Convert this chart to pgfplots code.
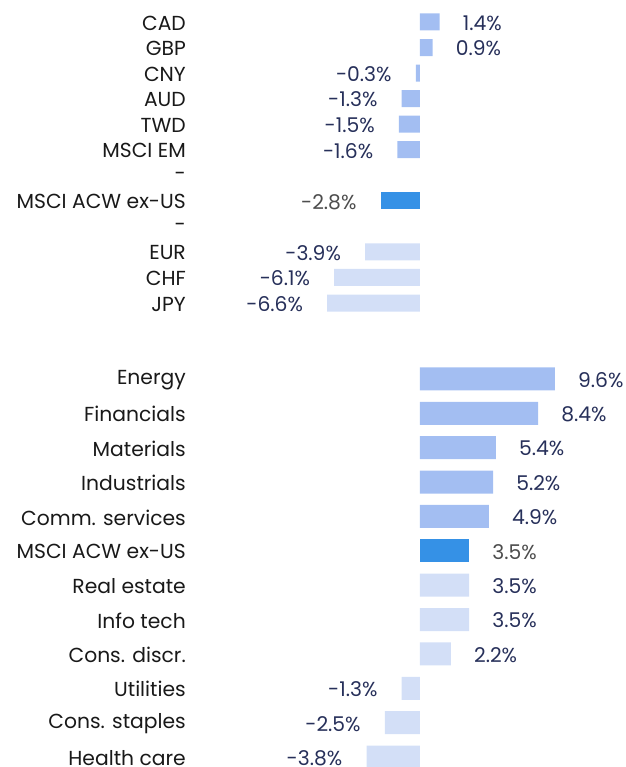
\documentclass[border=0pt]{standalone}
\usepackage{pgfplots}
\pgfplotsset{compat=1.18}
\usepackage{fontspec}
\setmainfont{Poppins}
\definecolor{med}{HTML}{A3BEF2}
\definecolor{hl}{HTML}{3591E6}
\definecolor{lt}{HTML}{D3DFF7}
\definecolor{navy}{HTML}{27305A}
\definecolor{gr}{HTML}{4D4D4D}
\newcommand{\lblfont}{\fontsize{20.3}{23}\selectfont}
\pgfplotsset{
  panel/.style={
    scale only axis, width=430pt, xmin=-16.0, xmax=14.58,
    ymin=-0.5, ymax=11.5, y dir=reverse,
    axis line style={draw=none}, tick style={draw=none},
    xtick=\empty, ytick={0,...,11},
    yticklabel style={anchor=east, inner sep=0pt, xshift=-9pt, yshift=-1pt, font=\lblfont, text=black!90},
    clip=false,
  },
  pbar/.style n args={3}{xbar, bar width=#1, bar shift=0pt, draw=none, fill=#2,
    point meta=explicit symbolic, nodes near coords,
    nodes near coords style={font=\lblfont, text=#3, inner sep=0pt, anchor=west, xshift=23pt, yshift=-1pt}},
  nbar/.style n args={3}{xbar, bar width=#1, bar shift=0pt, draw=none, fill=#2,
    point meta=explicit symbolic, nodes near coords,
    nodes near coords style={font=\lblfont, text=#3, inner sep=0pt, anchor=east, xshift=-24pt, yshift=-1pt}},
}
\begin{document}
\begin{tikzpicture}
\useasboundingbox (0pt,0pt) rectangle (625pt,767pt);
% Top panel: currencies
\begin{axis}[panel, height=306.6pt, at={(195pt,757.8pt)}, anchor=north west,
  yticklabels={CAD,GBP,CNY,AUD,TWD,MSCI EM,-,MSCI ACW ex-US,-,EUR,CHF,JPY}]
\addplot[pbar={17pt}{med}{navy}] coordinates {(1.4,0) [1.4\%] (0.9,1) [0.9\%]};
\addplot[nbar={17pt}{med}{navy}] coordinates {(-0.3,2) [-0.3\%] (-1.3,3) [-1.3\%] (-1.5,4) [-1.5\%] (-1.6,5) [-1.6\%]};
\addplot[nbar={17pt}{hl}{gr}] coordinates {(-2.8,7) [-2.8\%]};
\addplot[nbar={17pt}{lt}{navy}] coordinates {(-3.9,9) [-3.9\%] (-6.1,10) [-6.1\%] (-6.6,11) [-6.6\%]};
\end{axis}
% Bottom panel: sectors
\begin{axis}[panel, height=412.4pt, at={(195pt,405.2pt)}, anchor=north west,
  yticklabels={Energy,Financials,Materials,Industrials,Comm. services,MSCI ACW ex-US,Real estate,Info tech,Cons. discr.,Utilities,Cons. staples,Health care}]
\addplot[pbar={23pt}{med}{navy}] coordinates {(9.6,0) [9.6\%] (8.4,1) [8.4\%] (5.4,2) [5.4\%] (5.2,3) [5.2\%] (4.9,4) [4.9\%]};
\addplot[pbar={23pt}{hl}{gr}] coordinates {(3.5,5) [3.5\%]};
\addplot[pbar={23pt}{lt}{navy}] coordinates {(3.5,6) [3.5\%] (3.5,7) [3.5\%] (2.2,8) [2.2\%]};
\addplot[nbar={23pt}{lt}{navy}] coordinates {(-1.3,9) [-1.3\%] (-2.5,10) [-2.5\%] (-3.8,11) [-3.8\%]};
\end{axis}
\end{tikzpicture}
\end{document}
